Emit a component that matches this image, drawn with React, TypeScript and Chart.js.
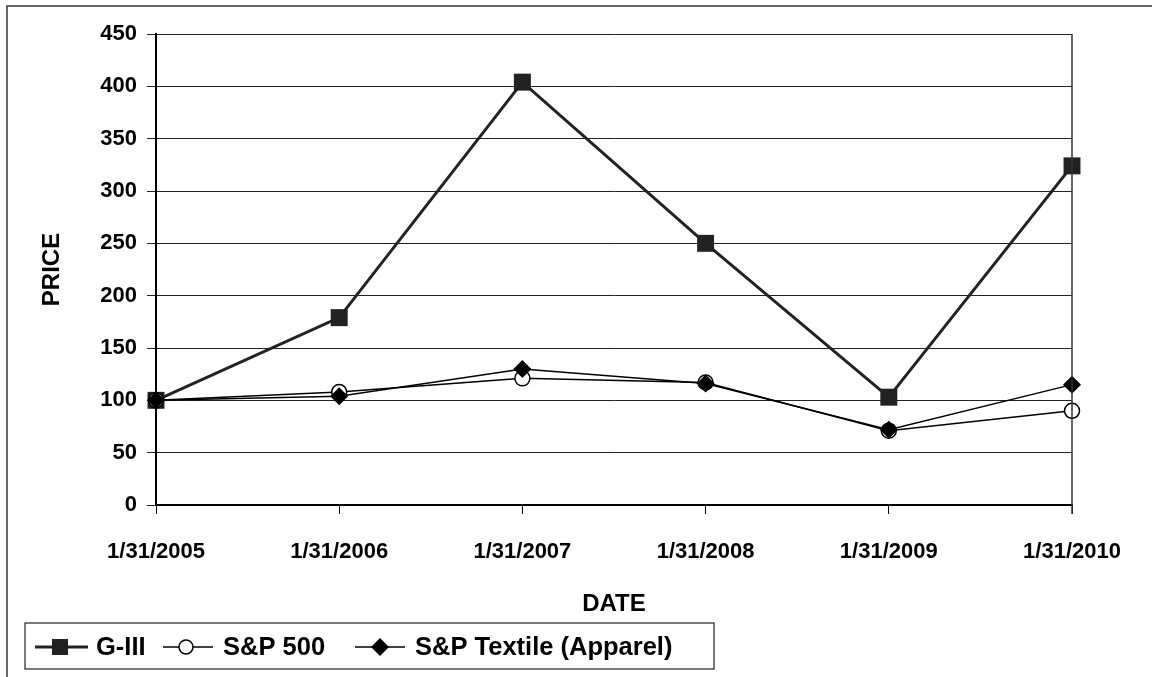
import React, { useEffect, useRef } from "react";
import { Chart, registerables } from "chart.js";

Chart.register(...registerables);

const dates = ["1/31/2005", "1/31/2006", "1/31/2007", "1/31/2008", "1/31/2009", "1/31/2010"];
const g3 = [100, 179, 404, 250, 103, 324];
const sp500 = [100, 108, 121, 117, 71, 90];
const textile = [100, 104, 130, 116, 72, 115];
const seriesNames = ["G-III", "S&P 500", "S&P Textile (Apparel)"];
const yTicksMax = 450;
const yStep = 50;

const FONT = "'Liberation Sans', Arial, sans-serif";

const framePlugin = {
  id: "frame",
  afterDraw(chart: any) {
    const ctx = chart.ctx;
    const area = chart.chartArea;
    ctx.save();
    // outer border (left + top)
    ctx.strokeStyle = "#333";
    ctx.lineWidth = 1.5;
    ctx.beginPath();
    ctx.moveTo(7, 677);
    ctx.lineTo(7, 6);
    ctx.lineTo(1152, 6);
    ctx.stroke();
    // right border of plot area
    ctx.strokeStyle = "#333";
    ctx.lineWidth = 1.5;
    ctx.beginPath();
    ctx.moveTo(area.right, area.top);
    ctx.lineTo(area.right, area.bottom + 9);
    ctx.stroke();

    // legend box
    const bx = 25, by = 623, bw = 689, bh = 46;
    const cy = by + bh / 2 + 1;
    ctx.strokeStyle = "#222";
    ctx.lineWidth = 1.2;
    ctx.strokeRect(bx, by, bw, bh);
    ctx.font = `bold 25.5px ${FONT}`;
    ctx.fillStyle = "#000";
    ctx.textBaseline = "middle";
    ctx.textAlign = "left";

    // G-III
    ctx.strokeStyle = "#222";
    ctx.lineWidth = 3;
    ctx.beginPath();
    ctx.moveTo(35, cy);
    ctx.lineTo(88, cy);
    ctx.stroke();
    ctx.fillStyle = "#222";
    ctx.fillRect(52, cy - 8, 16, 16);
    ctx.fillStyle = "#000";
    ctx.fillText(seriesNames[0], 96, cy + 1);

    // S&P 500
    ctx.strokeStyle = "#000";
    ctx.lineWidth = 1.5;
    ctx.beginPath();
    ctx.moveTo(163, cy);
    ctx.lineTo(213, cy);
    ctx.stroke();
    ctx.beginPath();
    ctx.arc(186, cy, 7, 0, Math.PI * 2);
    ctx.fillStyle = "#fff";
    ctx.fill();
    ctx.stroke();
    ctx.fillStyle = "#000";
    ctx.fillText(seriesNames[1], 223, cy + 1);

    // Textile
    ctx.beginPath();
    ctx.moveTo(355, cy);
    ctx.lineTo(405, cy);
    ctx.stroke();
    ctx.beginPath();
    ctx.moveTo(380, cy - 9);
    ctx.lineTo(389, cy);
    ctx.lineTo(380, cy + 9);
    ctx.lineTo(371, cy);
    ctx.closePath();
    ctx.fillStyle = "#000";
    ctx.fill();
    ctx.fillText(seriesNames[2], 415, cy + 1);
    ctx.restore();
  },
};

export default function App() {
  const ref = useRef<HTMLCanvasElement>(null);
  useEffect(() => {
    document.body.style.margin = "0";
    const canvas = ref.current!;
    const chart = new Chart(canvas, {
      type: "line",
      data: {
        labels: dates,
        datasets: [
          {
            label: seriesNames[0],
            data: g3,
            borderColor: "#222",
            backgroundColor: "#222",
            borderWidth: 3,
            pointStyle: "rect",
            pointRadius: 12,
            pointBorderWidth: 0,
            pointBackgroundColor: "#222",
            tension: 0,
            order: 3,
          },
          {
            label: seriesNames[1],
            data: sp500,
            borderColor: "#000",
            backgroundColor: "#fff",
            borderWidth: 1.5,
            pointStyle: "circle",
            pointRadius: 7.5,
            pointBorderWidth: 1.5,
            pointBorderColor: "#000",
            pointBackgroundColor: "#fff",
            tension: 0,
            order: 2,
          },
          {
            label: seriesNames[2],
            data: textile,
            borderColor: "#000",
            backgroundColor: "#000",
            borderWidth: 1.5,
            pointStyle: "rectRot",
            pointRadius: 9,
            pointBorderWidth: 0,
            pointBackgroundColor: "#000",
            tension: 0,
            order: 1,
          },
        ],
      },
      options: {
        animation: false,
        responsive: false,
        devicePixelRatio: 1,
        layout: { padding: { left: 30, right: 80, top: 34, bottom: 58 } },
        plugins: {
          legend: { display: false },
          tooltip: { enabled: false },
        },
        scales: {
          x: {
            type: "category",
            offset: false,
            afterFit: (s: any) => {
              s.height = 114;
            },
            grid: {
              drawOnChartArea: false,
              drawTicks: true,
              tickLength: 9,
              color: "#000",
              lineWidth: 1,
            },
            border: { display: true, color: "#000", width: 2 },
            ticks: {
              color: "#000",
              font: { family: FONT, size: 22, weight: "bold" },
              padding: 25,
              maxRotation: 0,
              autoSkip: false,
            },
            title: {
              display: true,
              text: "DATE",
              color: "#000",
              font: { family: FONT, size: 24, weight: "bold" },
              padding: { top: 0, bottom: 0 },
            },
          },
          y: {
            min: 0,
            max: yTicksMax,
            afterFit: (s: any) => {
              s.width = 126;
            },
            grid: {
              color: "#222",
              lineWidth: 1,
              tickLength: 9,
              drawTicks: true,
            },
            border: { display: true, color: "#000", width: 2 },
            ticks: {
              stepSize: yStep,
              color: "#000",
              font: { family: FONT, size: 22, weight: "bold" },
              padding: 10,
            },
            title: {
              display: true,
              text: "PRICE",
              color: "#000",
              font: { family: FONT, size: 24, weight: "bold" },
              padding: { top: 8, bottom: 0 },
            },
          },
        },
      },
      plugins: [framePlugin],
    });
    return () => chart.destroy();
  }, []);
  return (
    <div style={{ width: 1152, height: 677, background: "#fff" }}>
      <canvas ref={ref} width={1152} height={677} style={{ display: "block" }} />
    </div>
  );
}
